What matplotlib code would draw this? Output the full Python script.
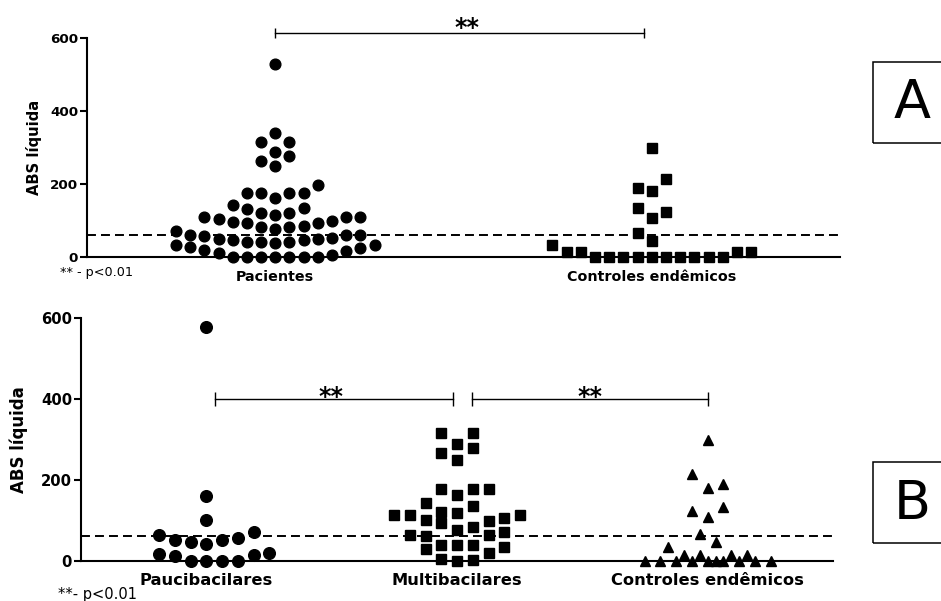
import numpy as np
import matplotlib
matplotlib.use("Agg")
import matplotlib.pyplot as plt
from matplotlib.patches import Rectangle

# cut-off (dashed line)
cutoff = 62

# panel A
top_groups = ["Pacientes", "Controles endêmicos"]
pacientes = [0, 0, 0, 0, 0, 0, 0, 6, 11, 18, 20, 25, 27, 34, 34,
             38, 41, 41, 43, 46, 47, 49, 50, 54, 58, 60, 61, 62, 72,
             76, 84, 84, 86, 93, 95, 97, 99, 105, 111, 111, 111,
             116, 120, 122, 131, 134, 143,
             161, 175, 177, 177, 177, 197,
             250, 264, 277, 288, 314, 316, 340, 528]
controles = [0, 0, 0, 0, 0, 0, 0, 0, 0, 0, 15, 15, 15, 15, 34,
             45, 65, 107, 123, 134, 180, 189, 215, 299]

# panel B
bottom_groups = ["Paucibacilares", "Multibacilares", "Controles endêmicos"]
paucibacilares = [0, 0, 0, 0, 12, 14, 16, 18,
                  41, 45, 50, 51, 57, 64, 72, 101, 160, 579]
multibacilares = [0, 1, 4, 20, 28, 35,
                  39, 39, 39, 61, 64, 64, 72,
                  77, 84, 94, 99, 101, 105, 113, 113, 113,
                  117, 121, 135, 144, 163, 177, 177, 178,
                  249, 266, 278, 289, 315, 315]


def swarm(values, row_h, max_n, half_even=False):
    # prism-like scatter: values binned in rows, spread from the centre out
    vals = sorted(values)
    slots, ys = [], []
    side = 1
    i = 0
    while i < len(vals):
        row = [vals[i]]
        i += 1
        while i < len(vals) and vals[i] < row[0] + row_h and len(row) < max_n:
            row.append(vals[i])
            i += 1
        seq = [0]
        k = 1
        while len(seq) < len(row):
            seq.append(side * k)
            if len(seq) < len(row):
                seq.append(-side * k)
            k += 1
        if half_even and len(row) % 2 == 0:
            seq = [s - side * 0.5 for s in seq]
        else:
            side = -side
        slots.extend(seq)
        ys.extend(row)
    return np.array(slots, dtype=float), np.array(ys, dtype=float)


def draw_group(ax, pos, values, marker, ms, spacing, row_h, max_n, half_even=False):
    slots, ys = swarm(values, row_h, max_n, half_even)
    ax.plot(pos + slots * spacing, ys, linestyle="none", marker=marker, ms=ms,
            color="black", clip_on=False, zorder=3)


def style_axes(ax, labels, tick_fs, label_fs, ylab_fs):
    ax.spines[["top", "right"]].set_visible(False)
    ax.spines[["left", "bottom"]].set_linewidth(1.5)
    ax.set_ylim(0, 600)
    ax.set_yticks([0, 200, 400, 600])
    ax.set_xlim(-0.5, len(labels) - 0.5)
    ax.set_xticks(range(len(labels)), labels)
    ax.tick_params(axis="y", length=5, width=1.5, pad=1.5, labelsize=tick_fs)
    ax.tick_params(axis="x", length=3, width=1.5, pad=6, labelsize=label_fs)
    for t in ax.get_xticklabels() + ax.get_yticklabels():
        t.set_fontweight("bold")
    ax.set_ylabel("ABS líquida", fontsize=ylab_fs, fontweight="bold")
    ax.axhline(cutoff, color="black", lw=1.4, linestyle=(0, (4.6, 2.6)), zorder=2)


def bracket(ax, x0, x1, y, star_x, star_y, cap):
    ax.plot([x0, x1], [y, y], color="black", lw=1.0, marker="|", ms=cap,
            mew=1.0, clip_on=False)
    ax.text(star_x, star_y, "**", ha="center", va="baseline", fontsize=17,
            fontweight="bold", clip_on=False)


fig = plt.figure(figsize=(9.41, 6.01), dpi=100)

ax1 = fig.add_axes([0.0925, 0.5719, 0.8002, 0.3654])
style_axes(ax1, top_groups, 9.7, 10.3, 10.6)
ax1.yaxis.set_label_coords(-0.06, 0.5)
draw_group(ax1, 0, pacientes, "o", 7.7, 0.0377, 37, 15)
draw_group(ax1, 1, controles, "s", 7.2, 0.0377, 37, 15)
bracket(ax1, 0.0, 0.98, 612, 0.51, 607, 7)

ax2 = fig.add_axes([0.0861, 0.0671, 0.7992, 0.4033])
style_axes(ax2, bottom_groups, 10.7, 11.7, 12)
ax2.yaxis.set_label_coords(-0.0705, 0.5)
draw_group(ax2, 0, paucibacilares, "o", 8.4, 0.0628, 37.5, 9)
draw_group(ax2, 1, multibacilares, "s", 7.9, 0.0628, 37.5, 9)
draw_group(ax2, 2, controles, "^", 7.8, 0.0628, 37.5, 9, half_even=True)
bracket(ax2, 0.036, 0.984, 400, 0.496, 387, 9.4)
bracket(ax2, 1.06, 2.0, 400, 1.532, 387, 9.4)

fig.text(0.0638, 0.5458, "** - p<0.01", fontsize=9.2, ha="left", va="center")
fig.text(0.0616, 0.011, "**- p<0.01", fontsize=10.5, ha="left", va="center")

# panel letters in boxes cut by the right edge
for y0, letter, ty in [(0.762, "A", 0.8286), (0.096, "B", 0.1614)]:
    fig.patches.append(Rectangle((0.9277, y0), 0.2, 0.1345, transform=fig.transFigure,
                                 fill=False, edgecolor="black", lw=1.1))
    fig.text(0.969, ty, letter, fontsize=39, ha="center", va="center")

fig.savefig("out.png", dpi=100)
plt.close(fig)
